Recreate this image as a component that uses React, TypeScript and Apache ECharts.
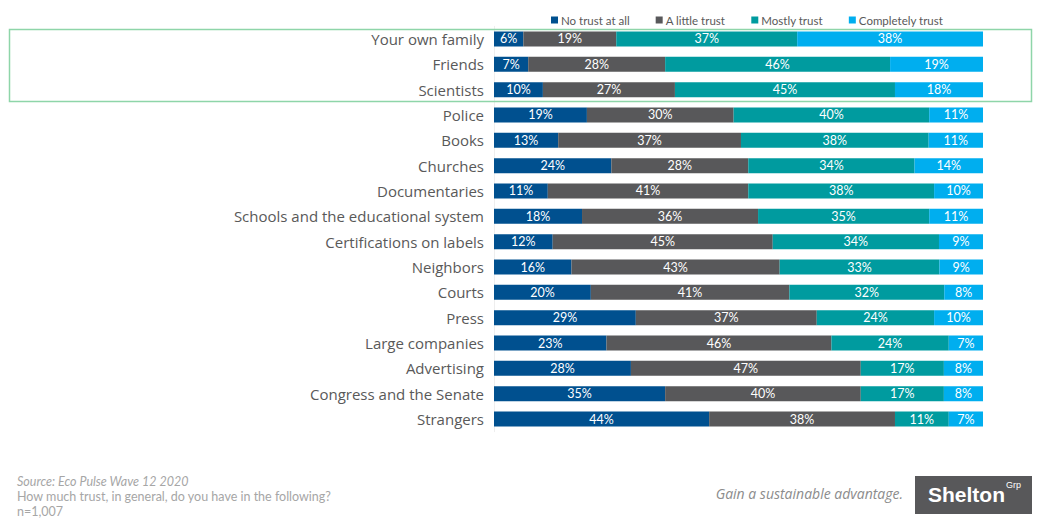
import React, { useEffect, useRef } from "react";
import * as echarts from "echarts";

const categories = [
  "Your own family", "Friends", "Scientists", "Police", "Books", "Churches",
  "Documentaries", "Schools and the educational system", "Certifications on labels",
  "Neighbors", "Courts", "Press", "Large companies", "Advertising",
  "Congress and the Senate", "Strangers",
];
const seriesNames = ["No trust at all", "A little trust", "Mostly trust", "Completely trust"];
const noTrust = [6, 7, 10, 19, 13, 24, 11, 18, 12, 16, 20, 29, 23, 28, 35, 44];
const littleTrust = [19, 28, 27, 30, 37, 28, 41, 36, 45, 43, 41, 37, 46, 47, 40, 38];
const mostlyTrust = [37, 46, 45, 40, 38, 34, 38, 35, 34, 33, 32, 24, 24, 17, 17, 11];
const completelyTrust = [38, 19, 18, 11, 11, 14, 10, 11, 9, 9, 8, 10, 7, 8, 8, 7];
const colors = ["#00508F", "#58585A", "#009B9F", "#00AEEF"];

export default function App() {
  const ref = useRef<HTMLDivElement>(null);
  useEffect(() => {
    if (!ref.current) return;
    const chart = echarts.init(ref.current, undefined, { renderer: "svg" });
    const all = [noTrust, littleTrust, mostlyTrust, completelyTrust];
    const totals = categories.map((_, i) => all.reduce((s, a) => s + a[i], 0));
    const font = "Lato, 'Open Sans', sans-serif";
    const wide = "'Open Sans', Lato, sans-serif";
    chart.setOption({
      animation: false,
      textStyle: { fontFamily: font },
      legend: {
        data: seriesNames,
        left: 546,
        top: 9,
        itemWidth: 7,
        itemHeight: 7,
        itemGap: 26,
        icon: "rect",
        textStyle: { color: "#595959", fontSize: 11.5, fontFamily: font, padding: [0, 0, 0, -2] },
      },
      grid: { left: 494, right: 65, top: 26.3, height: 405.4 },
      xAxis: { type: "value", min: 0, max: 100, show: false },
      yAxis: {
        type: "category",
        data: categories,
        inverse: true,
        axisTick: { show: false },
        axisLine: { show: true, lineStyle: { color: "#EEEEEE", width: 1 } },
        axisLabel: { color: "#595959", fontSize: 15, margin: 10, fontFamily: wide },
      },
      series: all.map((arr, k) => ({
        name: seriesNames[k],
        type: "bar",
        stack: "total",
        barWidth: 15,
        itemStyle: { color: colors[k] },
        label: {
          show: true,
          position: "inside",
          color: "#FFFFFF",
          fontSize: 12.5,
          fontFamily: font,
          formatter: (p: any) => arr[p.dataIndex] + "%",
        },
        data: arr.map((v, i) => (v / totals[i]) * 100),
      })),
      graphic: [
        {
          type: "rect",
          shape: { x: 9.5, y: 29.5, width: 1022, height: 72 },
          style: { fill: "none", stroke: "#8ED5A9", lineWidth: 1.5 },
          z: 10,
        },
        {
          type: "text",
          left: 17,
          top: 475,
          style: { text: "Source: Eco Pulse Wave 12 2020", fill: "#A6A6A6", fontSize: 12.5, fontStyle: "italic", fontFamily: font },
        },
        {
          type: "text",
          left: 17,
          top: 490,
          style: { text: "How much trust, in general, do you have in the following?", fill: "#A6A6A6", fontSize: 12.5, fontFamily: font },
        },
        {
          type: "text",
          left: 17,
          top: 505,
          style: { text: "n=1,007", fill: "#A6A6A6", fontSize: 12.5, fontFamily: font },
        },
        {
          type: "text",
          right: 145,
          top: 486,
          style: { text: "Gain a sustainable advantage.", fill: "#8C8C8C", fontSize: 14, fontStyle: "italic", fontFamily: wide },
        },
        {
          type: "rect",
          shape: { x: 915, y: 476, width: 117, height: 38 },
          style: { fill: "#58585A" },
        },
        {
          type: "text",
          x: 928,
          y: 484,
          style: { text: "Shelton", fill: "#FFFFFF", fontSize: 21, fontWeight: "bold", fontFamily: "Liberation Sans, Arial, sans-serif" },
        },
        {
          type: "text",
          x: 1006,
          y: 480,
          style: { text: "Grp", fill: "#FFFFFF", fontSize: 9, fontFamily: "Liberation Sans, Arial, sans-serif" },
        },
      ],
    });
    return () => chart.dispose();
  }, []);
  return (
    <div
      ref={ref}
      style={{ position: "absolute", left: 0, top: 0, width: 1048, height: 526, background: "#FFFFFF" }}
    />
  );
}
